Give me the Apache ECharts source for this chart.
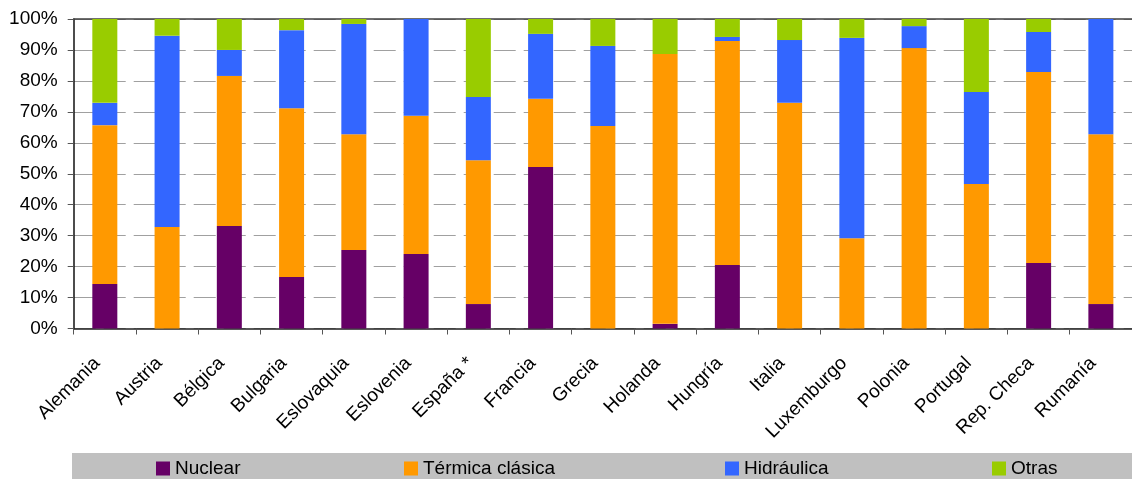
<!DOCTYPE html>
<html>
<head>
<meta charset="utf-8">
<script src="https://cdn.jsdelivr.net/npm/echarts@6/dist/echarts.min.js"></script>
<style>
html,body{margin:0;padding:0;background:#fff;}
#chart{width:1132px;height:479px;}
</style>
</head>
<body>
<div id="chart"></div>
<script>
const categories = ['Alemania','Austria','Bélgica','Bulgaria','Eslovaquia','Eslovenia','España *','Francia','Grecia','Holanda','Hungría','Italia','Luxemburgo','Polonia','Portugal','Rep. Checa','Rumanía'];
const nuclear    = [14.4, 0,    33.1, 16.6, 25.4, 24.1, 7.9,  52.2, 0,    1.5,  20.5, 0,    0,    0,    0,    21.2, 7.9];
const termica    = [51.3, 32.8, 48.5, 54.6, 37.4, 44.6, 46.5, 22.0, 65.4, 87.2, 72.4, 72.9, 29.2, 90.6, 46.7, 61.7, 54.9];
const hidraulica = [7.2,  61.8, 8.4,  25.2, 35.6, 31.3, 20.4, 21.0, 25.9, 0,    1.3,  20.3, 64.7, 7.1,  29.7, 12.9, 37.2];
const otras      = [27.1, 5.4,  10.0, 3.6,  1.6,  0,    25.2, 4.8,  8.7,  11.3, 5.8,  6.8,  6.1,  2.3,  23.6, 4.2,  0];
const seriesNames = ['Nuclear','Térmica clásica','Hidráulica','Otras'];
const seriesColors = ['#660066','#FF9900','#3366FF','#99CC00'];
const yTicks = [0,10,20,30,40,50,60,70,80,90,100];

const FONT = "'Liberation Sans', Arial, sans-serif";
const chart = echarts.init(document.getElementById('chart'), null, {renderer:'canvas'});
const allData = [nuclear, termica, hidraulica, otras];
const legendLefts = [156, 404, 725, 992];
const option = {
  animation: false,
  backgroundColor: '#ffffff',
  textStyle: {fontFamily: FONT, color: '#000'},
  graphic: [{
    type: 'rect', z: -1, silent: true,
    shape: {x: 72, y: 453, width: 1060, height: 26},
    style: {fill: '#C0C0C0'}
  }],
  grid: {left: 73.7, top: 19, bottom: 150.5, right: -8.5, containLabel: false},
  legend: seriesNames.map((n, i) => ({
    left: legendLefts[i], top: 459, padding: 0, itemWidth: 14, itemHeight: 14,
    icon: 'rect',
    textStyle: {fontFamily: FONT, fontSize: 19, color: '#000'},
    data: [n]
  })),
  xAxis: [{
    type: 'category', data: categories, position: 'bottom',
    axisLine: {lineStyle: {color: '#222', width: 1.5}},
    axisTick: {show: true, length: 6, lineStyle: {color: '#555'}, alignWithLabel: false},
    axisLabel: {rotate: 45, margin: 24, fontSize: 19, color: '#000', fontFamily: FONT, interval: 0, padding: [0, 11, 0, 0]}
  },{
    type: 'category', data: categories, position: 'top',
    axisLine: {lineStyle: {color: '#404040', width: 1.5}},
    axisTick: {show: false}, axisLabel: {show: false}
  }],
  yAxis: {
    type: 'value', min: yTicks[0], max: yTicks[yTicks.length-1], interval: 10,
    axisLine: {show: true, lineStyle: {color: '#111', width: 1.5}},
    axisTick: {show: true, length: 6, lineStyle: {color: '#555'}},
    axisLabel: {formatter: '{value}%', fontSize: 19, margin: 16, color: '#000', fontFamily: FONT},
    splitLine: {show: true, lineStyle: {color: '#a0a0a0', width: 1.2, type: [22, 8]}}
  },
  series: seriesNames.map((n, i) => ({
    name: n, type: 'bar', stack: 'total', barWidth: 25,
    itemStyle: {color: seriesColors[i]},
    data: allData[i]
  }))
};
chart.setOption(option);
</script>
</body>
</html>
